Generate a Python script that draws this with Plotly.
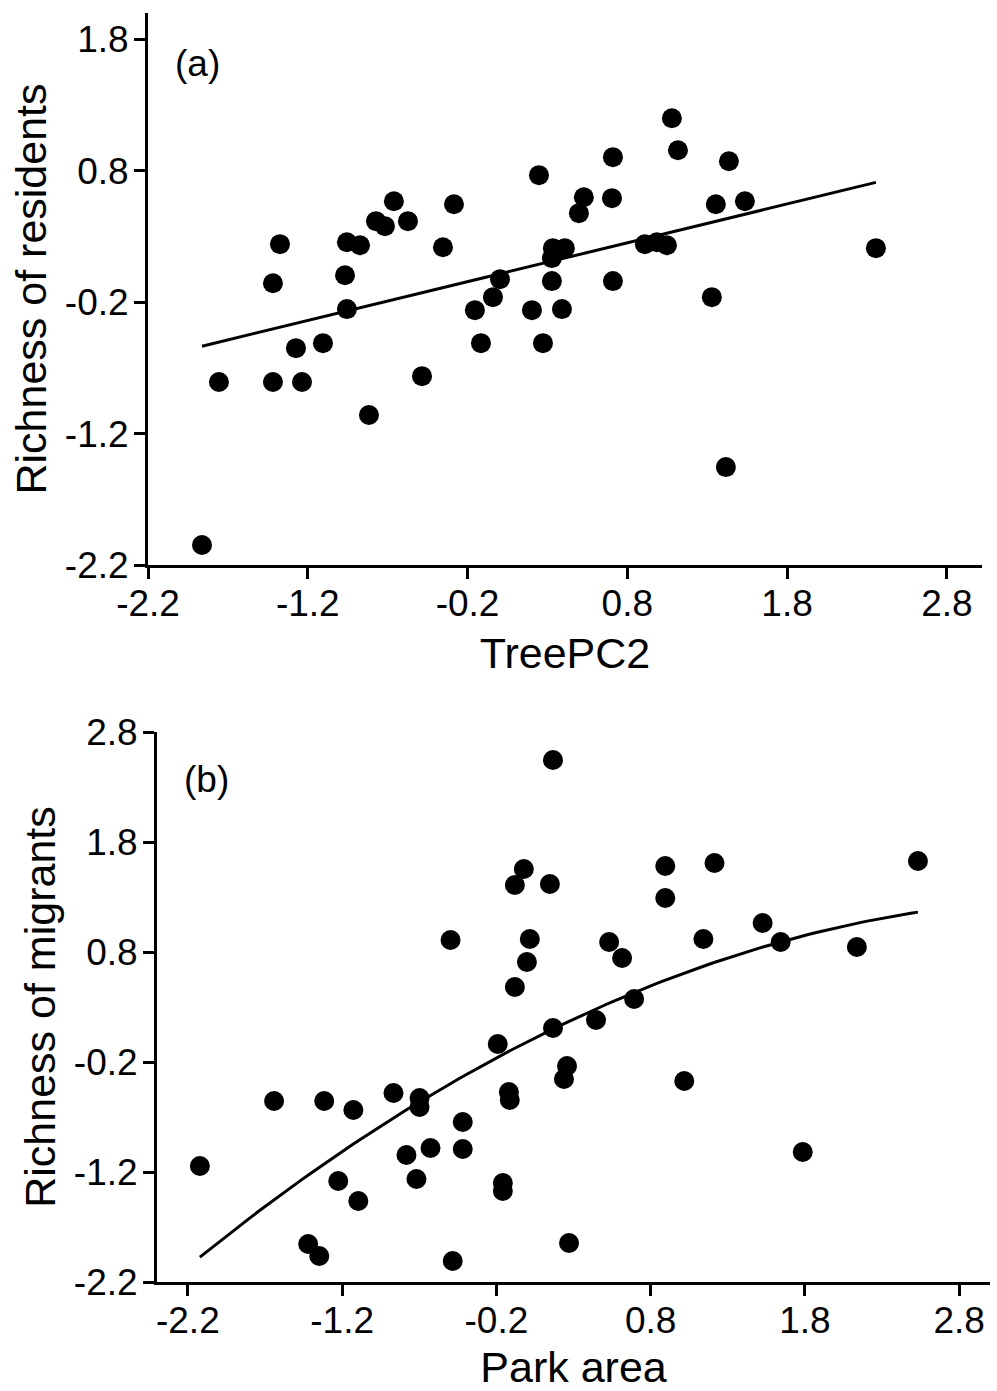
import numpy as np
import plotly.graph_objects as go

# Panel (a): TreePC2 vs richness of residents
tree_pc2 = [-1.374, -1.418, -1.756, -1.418, -1.236, -1.274, -1.105, -0.955, -0.967, -0.955,
            -0.873, -0.773, -0.717, -0.661, -0.573, -0.817, -0.485, -0.354, -0.285, -1.862,
            -0.154, -0.116, -0.041, 0.003, 0.247, 0.203, 0.272, 0.328, 0.391, 0.334,
            0.409, 0.328, 0.528, 0.497, 0.710, 0.704, 0.710, 0.910, 0.985, 1.048,
            1.079, 1.117, 1.436, 1.354, 1.536, 1.329, 1.417, 2.356]
resid_rich = [0.241, -0.056, -0.808, -0.808, -0.808, -0.550, -0.512, -0.253, 0.005, 0.256,
              0.233, 0.416, 0.378, 0.568, 0.416, -1.059, -0.763, 0.218, 0.545, -2.048,
              -0.261, -0.512, -0.162, -0.025, 0.766, -0.261, -0.512, -0.040, -0.253, 0.211,
              0.211, 0.135, 0.598, 0.477, 0.903, 0.591, -0.040, 0.241, 0.256, 0.233,
              1.199, 0.956, 0.872, 0.545, 0.568, -0.162, -1.455, 0.211]
fit_a = [0.015, 0.2955]  # intercept, slope

# Panel (b): park area vs richness of migrants
park_area = [-2.122, -1.641, -1.316, -1.127, -0.867, -0.698, -0.698, -0.191, 0.167, 0.258,
             0.238, -0.119, -0.113, -0.418, -0.418, -0.627, -0.783, -0.718, -1.225, -1.095,
             -0.158, -0.158, -1.420, -1.348, -0.483, 0.271, -0.497, -0.022, -0.080, 0.147,
             0.017, -0.002, -0.080, 0.167, 0.531, 0.615, 0.446, 0.693, 0.895, 0.895,
             1.214, 1.142, 1.526, 1.643, 2.137, 1.018, 1.786, 2.533]
migr_rich = [-1.145, -0.555, -0.555, -0.636, -0.482, -0.527, -0.609, -0.036, 0.109, -0.236,
             -0.355, -0.473, -0.545, -0.745, -0.991, -0.982, -1.045, -1.264, -1.282, -1.464,
             -1.300, -1.373, -1.855, -1.964, -2.009, -1.845, 0.909, 1.555, 1.409, 1.418,
             0.918, 0.709, 0.482, 2.545, 0.891, 0.745, 0.182, 0.373, 1.582, 1.291,
             1.609, 0.918, 1.064, 0.891, 0.845, -0.373, -1.018, 1.627]
fit_b = [-0.0165, 0.714, -0.0981]  # a + b x + c x^2

tick_vals_a_x = [-2.2, -1.2, -0.2, 0.8, 1.8, 2.8]
tick_vals_a_y = [-2.2, -1.2, -0.2, 0.8, 1.8]
tick_vals_b_x = [-2.2, -1.2, -0.2, 0.8, 1.8, 2.8]
tick_vals_b_y = [-2.2, -1.2, -0.2, 0.8, 1.8, 2.8]

FONT = "Liberation Sans, Arial, sans-serif"
W, H = 997, 1391

fig = go.Figure()

mk = dict(color="black", size=20, line=dict(width=0))

fig.add_trace(go.Scatter(x=tree_pc2, y=resid_rich, mode="markers", marker=mk,
                         xaxis="x", yaxis="y", showlegend=False))
xa = np.linspace(min(tree_pc2), max(tree_pc2), 50)
fig.add_trace(go.Scatter(x=xa, y=fit_a[0] + fit_a[1] * xa, mode="lines",
                         line=dict(color="black", width=3),
                         xaxis="x", yaxis="y", showlegend=False))

fig.add_trace(go.Scatter(x=park_area, y=migr_rich, mode="markers", marker=mk,
                         xaxis="x2", yaxis="y2", showlegend=False))
xb = np.linspace(min(park_area), max(park_area), 100)
fig.add_trace(go.Scatter(x=xb, y=fit_b[0] + fit_b[1] * xb + fit_b[2] * xb ** 2, mode="lines",
                         line=dict(color="black", width=3),
                         xaxis="x2", yaxis="y2", showlegend=False))

def fmt(v):
    return f"{v:.1f}"

axis_common = dict(showline=True, linecolor="black", linewidth=3, ticks="outside",
                   ticklen=11, tickwidth=3, tickcolor="black", showgrid=False,
                   zeroline=False, tickfont=dict(family=FONT, size=37, color="black"),
                   fixedrange=True, automargin=False)

TITLE_FONT = dict(family=FONT, size=43, color="black")

fig.update_layout(
    width=W, height=H, margin=dict(l=0, r=0, t=0, b=0, autoexpand=False),
    paper_bgcolor="white", plot_bgcolor="white",
    font=dict(family=FONT, color="black"),
    hovermode=False,
    xaxis=dict(domain=[148 / W, 982 / W], range=[-2.2, 3.02], anchor="y",
               tickvals=tick_vals_a_x, ticktext=[fmt(v) for v in tick_vals_a_x],
               ticklabelstandoff=-7,
               title=dict(text="TreePC2", font=TITLE_FONT, standoff=15),
               **axis_common),
    yaxis=dict(domain=[1 - 565 / H, 1 - 13 / H], range=[-2.2, 2.0], anchor="x",
               tickvals=tick_vals_a_y, ticktext=[fmt(v) for v in tick_vals_a_y],
               ticklabelstandoff=-2,
               title=dict(text="Richness of residents", font=TITLE_FONT, standoff=5),
               **axis_common),
    xaxis2=dict(domain=[157 / W, 990 / W], range=[-2.4, 3.0], anchor="y2",
                tickvals=tick_vals_b_x, ticktext=[fmt(v) for v in tick_vals_b_x],
                ticklabelstandoff=-7,
                title=dict(text="Park area", font=TITLE_FONT, standoff=14),
                **axis_common),
    yaxis2=dict(domain=[1 - 1282 / H, 1 - 732 / H], range=[-2.2, 2.8], anchor="x2",
                tickvals=tick_vals_b_y, ticktext=[fmt(v) for v in tick_vals_b_y],
                ticklabelstandoff=-2,
                title=dict(text="Richness of migrants", font=TITLE_FONT, standoff=5),
                **axis_common),
    annotations=[
        dict(text="(a)", x=197 / W, y=1 - 64 / H, xref="paper", yref="paper",
             showarrow=False, font=dict(family=FONT, size=37, color="black"),
             xanchor="center", yanchor="middle"),
        dict(text="(b)", x=206 / W, y=1 - 780 / H, xref="paper", yref="paper",
             showarrow=False, font=dict(family=FONT, size=37, color="black"),
             xanchor="center", yanchor="middle"),
    ],
)

fig.write_html("out.html", config={"displayModeBar": False, "staticPlot": True},
               post_script="document.body.style.margin='0px';")
